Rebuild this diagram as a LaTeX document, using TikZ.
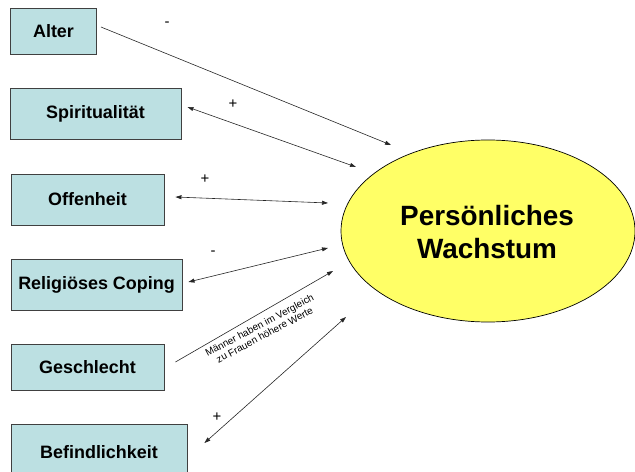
\documentclass[tikz,border=0pt]{standalone}
\usepackage{fontspec}
\setmainfont{Liberation Sans}
\usetikzlibrary{arrows.meta,calc,shapes.geometric}
\definecolor{boxfill}{RGB}{188,224,226}
\definecolor{boxline}{RGB}{64,64,64}
\definecolor{ellfill}{RGB}{255,255,102}
\begin{document}
\begin{tikzpicture}[x=1bp,y=-1bp,
  varbox/.style={draw=boxline,line width=0.9bp,fill=boxfill,inner sep=0pt,
    font=\fontsize{18}{20}\selectfont\bfseries},
  conn/.style={line width=0.6bp,draw=black!85},
  tip/.tip={Triangle[length=6bp,width=4bp]},
  sign/.style={font=\fontsize{15}{17}\selectfont}]
\useasboundingbox (0,0) rectangle (635,472);
\begin{scope}
\clip (0,0) rectangle (635,472);
% boxes
\node[varbox,minimum width=86bp,minimum height=46bp] (alter) at (53.5,31) {Alter};
\node[varbox,minimum width=171bp,minimum height=51bp] (spir) at (95.5,113.5) {Spiritualität};
\node[varbox,minimum width=153bp,minimum height=51bp] (offen) at (87.5,199.5) {Offenheit};
\node[varbox,minimum width=171bp,minimum height=51bp] (relig) at (96.5,284.5) {Religiöses Coping};
\node[varbox,minimum width=153bp,minimum height=46bp] (gesch) at (87.5,367) {Geschlecht};
\node[draw=boxline,line width=0.9bp,fill=boxfill,minimum width=176bp,minimum height=52bp,inner sep=0pt] (befind) at (99,450) {};
\node[font=\fontsize{18}{20}\selectfont\bfseries] (befindtxt) at (99,452) {Befindlichkeit};
% ellipse
\node[ellipse,draw=black,line width=0.7bp,fill=ellfill,minimum width=294bp,minimum height=182bp,inner sep=0pt] (pw) at (488,231) {};
\node[font=\fontsize{28}{34}\selectfont\bfseries,align=center] (pwtxt) at (487,232) {Persönliches\\Wachstum};
\end{scope}
% free ends near ellipse
\coordinate (e1) at (391,145);
\coordinate (e2) at (356,167);
\coordinate (e3) at (328,203);
\coordinate (e4) at (328,248);
\coordinate (e5) at (333,271);
\coordinate (e6) at (346,317);
% connectors
\draw[conn,-tip] ($(alter.east)+(4,-4)$) -- (e1);
\draw[conn,tip-tip] ($(spir.east)+(6,-6.5)$) -- (e2);
\draw[conn,tip-tip] ($(offen.east)+(11,-2.5)$) -- (e3);
\draw[conn,tip-tip] ($(relig.east)+(6,-2.5)$) -- (e4);
\draw[conn,-tip] ($(gesch.east)+(11,-5)$) -- (e5);
\draw[conn,tip-tip] ($(befind.east)+(17,-7)$) -- (e6);
% signs
\node[sign] (s1) at (167,24) {-};
\node[sign] (s2) at (233,104) {+};
\node[sign] (s3) at (205,179) {+};
\node[sign] (s4) at (213,253) {-};
\node[sign] (s5) at (217,417) {+};
% note
\node[font=\fontsize{10}{11}\selectfont,align=center,rotate=28] (note) at (262,330) {Männer haben im Vergleich\\zu Frauen höhere Werte};
\end{tikzpicture}
\end{document}
